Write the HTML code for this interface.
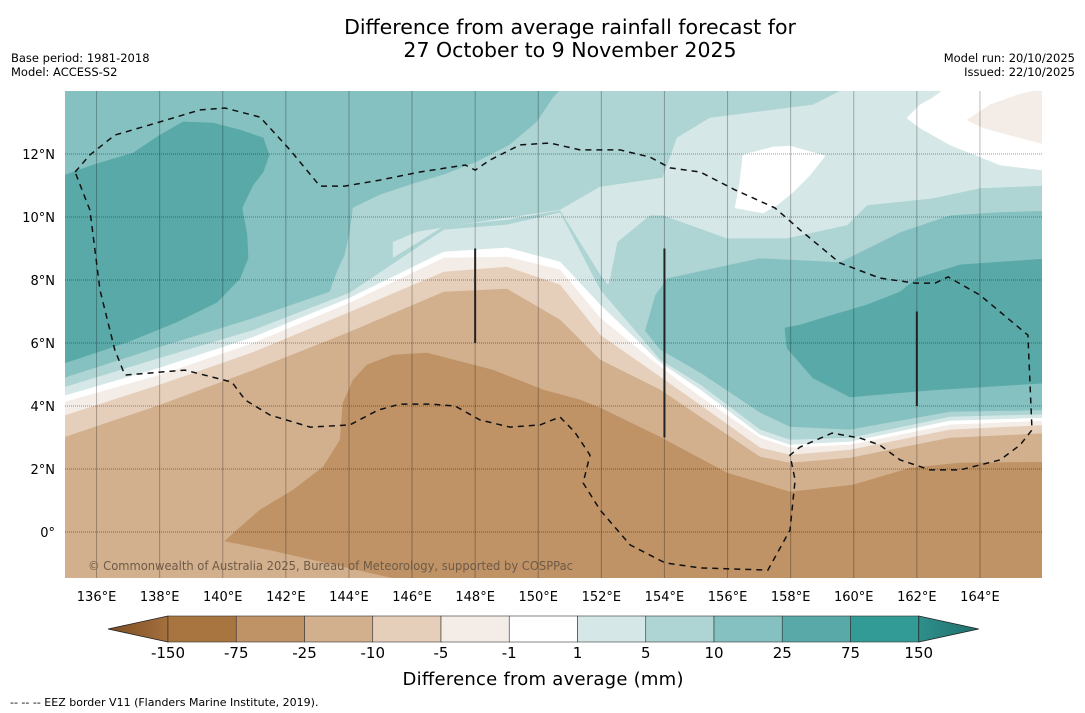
<!DOCTYPE html>
<html><head><meta charset="utf-8"><style>
html,body{margin:0;padding:0;background:#fff;}
svg{display:block;font-family:"DejaVu Sans","Liberation Sans",sans-serif;}
</style></head><body>
<svg id="chart" width="1085" height="713" viewBox="0 0 1085 713" xmlns="http://www.w3.org/2000/svg">
<defs>
<clipPath id="mapclip"><rect x="65" y="91" width="977" height="487"/></clipPath>
<linearGradient id="lg" x1="0" x2="1"><stop offset="0" stop-color="#7d4d22"/><stop offset="1" stop-color="#a3703e"/></linearGradient>
<linearGradient id="rg" x1="0" x2="1"><stop offset="0" stop-color="#2f8f8b"/><stop offset="1" stop-color="#1f6f6b"/></linearGradient>
</defs>
<text x="570" y="34" font-size="20.5" text-anchor="middle">Difference from average rainfall forecast for</text>
<text x="570" y="57" font-size="20.5" text-anchor="middle">27 October to 9 November 2025</text>
<text x="11" y="62" font-size="11.5">Base period: 1981-2018</text>
<text x="11" y="76" font-size="11.5">Model: ACCESS-S2</text>
<text x="1075" y="62" font-size="11.5" text-anchor="end">Model run: 20/10/2025</text>
<text x="1075" y="76" font-size="11.5" text-anchor="end">Issued: 22/10/2025</text>
<g id="map" clip-path="url(#mapclip)"></g>
<g id="axes"></g>
<g id="cbar"></g>
<text x="543" y="685" font-size="18" text-anchor="middle" textLength="281">Difference from average (mm)</text>
<text x="10" y="706" font-size="11">--  --  -- EEZ border V11 (Flanders Marine Institute, 2019).</text>
</svg>
<script>
// ---- data ----
const bandLabels = ["-150","-75","-25","-10","-5","-1","1","5","10","25","75","150"];
const bandColors = ["#a8743f","#bf9366","#d2b08e","#e5cfba","#f4ede7","#ffffff","#d5e8e7","#aed4d4","#85c1c0","#5aa9a9","#339b96"];
const lonTicks = [136,138,140,142,144,146,148,150,152,154,156,158,160,162,164];
const latTicks = [0,2,4,6,8,10,12];
const latTickLabels = ["0°","2°N","4°N","6°N","8°N","10°N","12°N"];
const stripeLons = [135,138.01,140.99,144.03,147.01,149.01,150.69,151.96,153.86,155.13,157.03,157.98,159.88,163.05,166];
const top5to10 = [4.57,5.87,6.79,7.84,9.7,9.9,10.2,8.16,5.78,5.05,3.78,3.33,3.24,3.81,3.87];
const top1to5  = [4.29,5.52,6.41,7.59,9.59,9.75,10.13,7.68,5.46,4.67,3.24,2.92,2.98,3.65,3.75];
const topWhite = [4.03,5.21,6.19,7.43,8.89,9.02,8.57,7.21,5.37,4.51,3.08,2.76,2.86,3.52,3.65];
const topM5    = [3.84,4.98,6.00,7.27,8.70,8.73,8.32,6.79,5.24,4.29,2.98,2.67,2.76,3.40,3.56];
const topM10   = [3.37,4.67,5.71,6.98,8.25,8.41,7.84,6.25,4.92,4.03,2.67,2.44,2.60,3.24,3.43];
const topM25   = [2.67,4.03,5.14,6.35,7.62,7.71,6.73,5.46,4.51,3.65,2.38,2.19,2.35,2.98,3.17];
const blobLeft2575 = [[135,11.33],[135.89,11.65],[137.16,12.03],[138.01,12.6],[138.74,13.02],[139.69,12.98],[140.55,12.76],[141.28,12.51],[141.47,11.97],[141.28,11.43],[140.96,11.02],[140.61,10.29],[140.77,9.43],[140.8,8.7],[140.55,8.06],[139.82,7.3],[138.55,6.67],[136.97,6.03],[135,5.37],[134,5.3],[134,11.4]];
const blobNorth510 = [[143.3,7.37],[143.62,8.25],[143.87,8.79],[144.03,9.52],[144.13,10.29],[144.98,10.7],[145.93,11.02],[146.98,11.33],[148.06,11.75],[149.1,12.29],[149.96,13.02],[150.47,13.78],[150.85,14.2],[166.5,14.2],[166.5,10.22],[164.64,10.16],[163.05,10.06],[161.47,9.52],[159.56,8.57],[157.03,8.7],[154.08,8.06],[153.7,7.52],[153.38,6.41],[150.69,6.41],[145.62,6.41]];
const blobNorth15 = [[145.4,9.2],[146.16,9.52],[147.52,9.75],[149.64,10.06],[150.69,10.22],[151.96,10.95],[153.95,11.24],[154.4,12.51],[155.44,13.14],[158.71,13.56],[159.98,14.2],[166.5,14.2],[166.5,11.02],[164,10.92],[162.51,10.6],[160.42,10.38],[159.79,9.75],[157.88,9.33],[155.98,9.33],[153.95,10.06],[153.54,10.06],[152.5,9.21],[152.27,8.06],[151.96,7.05],[147.2,7.05],[145.4,7.5]];
const blobWhiteNE = [[161.69,13.14],[162.1,13.56],[162.51,13.78],[163.05,14.2],[166.5,14.2],[166.5,11.43],[164.64,11.65],[163.05,12.29],[162.1,12.83]];
const blobTanNE = [[163.59,13.08],[164.32,13.56],[165.17,13.87],[166.5,14.2],[166.5,12.19],[164.1,12.83]];
const blobWhiteC = [[156.49,11.97],[157.44,12.22],[157.98,12.25],[159.09,11.94],[158.61,11.33],[158.07,10.79],[157.57,10.38],[157.12,10.13],[156.24,10.29],[156.39,11.11]];
const blobRight2575 = [[157.82,6.48],[158.3,6.57],[159.34,6.89],[160.42,7.21],[161.47,7.62],[162.01,8.06],[163.37,8.48],[166.5,8.7],[166.5,4.76],[162.51,4.51],[159.88,4.29],[158.71,4.89],[157.88,5.84]];
const blobM75 = [[140.07,-0.29],[140.45,0.06],[141.18,0.7],[142.23,1.33],[143.18,2.06],[143.72,2.92],[143.81,4.09],[144.13,4.82],[144.57,5.3],[145.4,5.62],[146.48,5.68],[148.57,5.14],[150.15,4.51],[151.33,4.19],[151.96,3.94],[153.86,3.01],[155.99,1.87],[157.98,1.27],[159.98,1.49],[161.79,2.03],[163.37,2.19],[166.5,2.22],[166.5,-2],[145.4,-2],[145.4,-1.46],[141.5,-0.57]];
const eezBorder = [[135.32,11.43],[135.79,11.97],[136.58,12.6],[138.01,13.02],[139.28,13.4],[140.07,13.46],[141.18,13.17],[142.13,12.13],[143.08,10.98],[143.87,10.98],[144.98,11.17],[146.25,11.43],[147.68,11.65],[148,11.49],[148.47,11.81],[149.42,12.29],[150.37,12.35],[151.32,12.13],[152.59,12.13],[153.54,11.9],[154.18,11.56],[155.13,11.43],[156.24,10.86],[157.5,10.29],[158.3,9.59],[159.56,8.54],[160.83,8.06],[161.94,7.9],[162.58,7.9],[162.99,8.1],[164,7.52],[165.52,6.25],[165.65,3.24],[165.27,2.76],[164.64,2.29],[163.37,1.97],[162.42,1.97],[161.47,2.29],[160.83,2.76],[160.2,2.98],[159.31,3.14],[158.3,2.7],[157.98,2.44],[158.14,1.65],[157.98,0.06],[157.28,-1.21],[155.13,-1.14],[154.02,-0.98],[152.91,-0.41],[151.96,0.7],[151.42,1.56],[151.64,2.44],[151.16,3.17],[150.69,3.65],[150.06,3.4],[149.1,3.33],[148.15,3.56],[147.36,4],[146.57,4.06],[145.62,4.06],[144.92,3.87],[144.03,3.4],[142.77,3.33],[141.5,3.71],[140.71,4.19],[140.29,4.76],[138.8,5.14],[136.9,4.98],[136.58,5.78],[136.11,7.68],[135.79,10.22],[135.32,11.43]];
const boundaryLons = [148,154,162];
const boundaryLatTop = [9,9,7];
const boundaryLatBot = [6,3,4];

// ---- axes ----
const X = lon => 65 + (lon-135)*31.55;
const Y = lat => 91 + (14-lat)*31.5;
const NS = "http://www.w3.org/2000/svg";
function mk(tag, parent, attrs){const e=document.createElementNS(NS,tag);for(const k in attrs)e.setAttribute(k,attrs[k]);parent.appendChild(e);return e;}
const ptStr = arr => arr.map(p=>X(p[0]).toFixed(1)+","+Y(p[1]).toFixed(1)).join(" ");
const map = document.getElementById("map");

let r = mk("rect", map, {x:65,y:91,width:977,height:487,fill:bandColors[8]});



function poly(arr, color, name){
  const p = mk("polygon", map, {points:ptStr(arr), fill:color, stroke:color, "stroke-width":0.6});
  
  
}
poly(blobLeft2575, bandColors[9], "contour-25-75-west");
poly(blobNorth510, bandColors[7], "contour-5-10-north");
poly(blobNorth15, bandColors[6], "contour-1-5-north");
poly(blobWhiteNE, bandColors[5], "contour-neutral-northeast");
poly(blobTanNE, bandColors[4], "contour-minus5-northeast");
poly(blobWhiteC, bandColors[5], "contour-neutral-central");
poly(blobRight2575, bandColors[9], "contour-25-75-east");

function stripe(lats, color, name){
  const arr = stripeLons.map((lon,i)=>[lon,lats[i]]);
  arr[0] = [134, lats[0]]; arr[arr.length-1] = [167, lats[lats.length-1]];
  arr.push([167,-3]); arr.push([134,-3]);
  poly(arr, color, name);
}
stripe(top5to10, bandColors[7], "contour-5-10-band");
stripe(top1to5, bandColors[6], "contour-1-5-band");
stripe(topWhite, bandColors[5], "contour-neutral-band");
stripe(topM5, bandColors[4], "contour-minus5-band");
stripe(topM10, bandColors[3], "contour-minus10-band");
stripe(topM25, bandColors[2], "contour-minus25-band");
poly(blobM75, bandColors[1], "contour-minus75-region");

lonTicks.concat([166]).forEach(lon=>{
  const l = mk("line", map, {x1:X(lon),x2:X(lon),y1:91,y2:578,stroke:"#000","stroke-opacity":0.28,"stroke-width":1});
  
  
});
latTicks.forEach(lat=>{
  const l = mk("line", map, {x1:65,x2:1042,y1:Y(lat),y2:Y(lat),stroke:"#000","stroke-opacity":0.4,"stroke-width":1,"stroke-dasharray":"1,1"});
  
  
});
const eez = mk("polyline", map, {points:ptStr(eezBorder), fill:"none", stroke:"#111","stroke-width":1.5,"stroke-dasharray":"6,5"});


boundaryLons.forEach((lon,i)=>{
  const l = mk("line", map, {x1:X(lon),x2:X(lon),y1:Y(boundaryLatTop[i]),y2:Y(boundaryLatBot[i]),stroke:"#222","stroke-width":2});
  
  
});
const cp = mk("text", map, {x:88,y:570,"font-size":12,fill:"#6e5a47",textLength:485,lengthAdjust:"spacingAndGlyphs"});
cp.textContent = "© Commonwealth of Australia 2025, Bureau of Meteorology, supported by COSPPac";



const axes = document.getElementById("axes");
lonTicks.forEach(lon=>{
  const t = mk("text", axes, {x:X(lon),y:601,"font-size":13,"text-anchor":"middle"});
  t.textContent = lon+"°E";
  
  
});
latTicks.forEach((lat,i)=>{
  const t = mk("text", axes, {x:55,y:Y(lat)+5,"font-size":13,"text-anchor":"end"});
  t.textContent = latTickLabels[i];
  
  
});

const cb = document.getElementById("cbar");
const cx0 = 168, cw = 68.25, cy = 616, ch = 26;
const lt = mk("polygon", cb, {points:`108,${cy+ch/2} ${cx0},${cy} ${cx0},${cy+ch}`, fill:"url(#lg)", stroke:"#222","stroke-width":0.8});


for(let i=0;i<bandColors.length;i++){
  const rc = mk("rect", cb, {x:cx0+i*cw,y:cy,width:cw,height:ch,fill:bandColors[i],stroke:"#333","stroke-width":0.6});
  
  
}
const xe = cx0+bandColors.length*cw;
const rt = mk("polygon", cb, {points:`${xe},${cy} ${xe+60},${cy+ch/2} ${xe},${cy+ch}`, fill:"url(#rg)", stroke:"#222","stroke-width":0.8});


bandLabels.forEach((lab,i)=>{
  const t = mk("text", cb, {x:cx0+i*cw,y:658,"font-size":15,"text-anchor":"middle"});
  t.textContent = lab;
  
  
});
</script>
</body></html>
